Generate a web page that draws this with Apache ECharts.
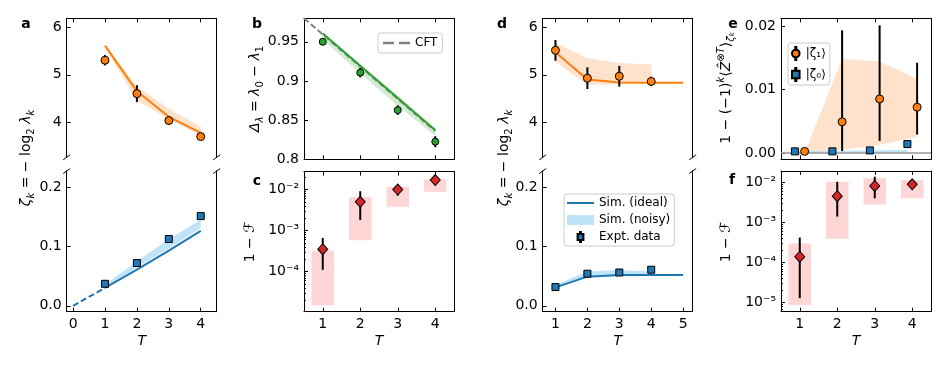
<!DOCTYPE html>
<html><head><meta charset="utf-8">
<script src="https://cdn.jsdelivr.net/npm/echarts@6/dist/echarts.min.js"></script>
<style>html,body{margin:0;padding:0;background:#fff}#c{width:947px;height:368px}</style>
</head><body><div id="c"></div>
<script>
// ---------------- DATA ----------------
const T4 = [1, 2, 3, 4];
const T5 = [1, 2, 3, 4, 5];
// panel a (top): zeta_1
const aTopExp = [5.31, 4.60, 4.03, 3.69];
const aTopExpErr = [0.11, 0.18, 0.09, 0.07];
const aTopSim = [5.62, 4.65, 4.11, 3.77];
const aTopBandLo = [5.58, 4.45, 4.05, 3.72];
const aTopBandHi = [5.64, 4.75, 4.28, 3.90];
// panel a (bottom): zeta_0
const aBotDashT = [0, 1];
const aBotDash = [0, 0.030];
const aBotSim = [0.030, 0.061, 0.093, 0.126];
const aBotBandLo = [0.031, 0.064, 0.097, 0.131];
const aBotBandHi = [0.036, 0.075, 0.112, 0.145];
const aBotExp = [0.037, 0.072, 0.1125, 0.151];
const aBotExpErr = [0.003, 0.003, 0.004, 0.005];
// panel b
const bExp = [0.950, 0.9106, 0.8628, 0.8225];
const bExpErr = [0.004, 0.006, 0.006, 0.007];
const bSim = [0.9607, 0.9195, 0.8783, 0.837];
const bBandLo = [0.953, 0.910, 0.868, 0.830];
const bBandHi = [0.961, 0.921, 0.881, 0.840];
const cftT = [0.5, 4];
const cftVal = [0.980, 0.836];
// panel c
const cExp = [3.5e-4, 5.0e-3, 1.0e-2, 1.7e-2];
const cErrLo = [1.1e-4, 1.8e-3, 7.1e-3, 1.45e-2];
const cErrHi = [6.6e-4, 9.1e-3, 1.3e-2, 1.95e-2];
const cRectLo = [1.5e-5, 5.8e-4, 3.8e-3, 8.8e-3];
const cRectHi = [3.2e-4, 6.6e-3, 1.17e-2, 1.77e-2];
// panel d (top)
const dTopSim = [5.48, 4.90, 4.84, 4.83, 4.83];
const dTopBandLo = [5.28, 4.79, 4.80, 4.82];
const dTopBandHi = [5.68, 5.35, 5.25, 5.22];
const dTopExp = [5.52, 4.93, 4.97, 4.86];
const dTopExpErr = [0.22, 0.23, 0.22, 0.10];
// panel d (bottom)
const dBotSim = [0.031, 0.049, 0.052, 0.052, 0.052];
const dBotBandLo = [0.029, 0.048, 0.050, 0.050];
const dBotBandHi = [0.035, 0.058, 0.060, 0.058];
const dBotExp = [0.0315, 0.054, 0.056, 0.0607];
const dBotExpErr = [0.002, 0.003, 0.003, 0.003];
// panel e
const eT1 = [1.13, 2.13, 3.13, 4.13];
const eT0 = [0.87, 1.87, 2.87, 3.87];
const e1Exp = [0.00025, 0.0049, 0.0085, 0.0072];
const e1ErrLo = [0.0001, 0.0003, 0.0019, 0.0029];
const e1ErrHi = [0.0004, 0.0193, 0.0201, 0.0142];
const e1BandLo = [0, 0.0005, 0.0013, 0.0025];
const e1BandHi = [0, 0.0148, 0.0144, 0.0117];
const e0Exp = [0.00025, 0.00025, 0.0004, 0.0014];
const e0Err = [0.0001, 0.0001, 0.0001, 0.0002];
const e0BandLo = [0, 0, 0, 0];
const e0BandHi = [0.0003, 0.0003, 0.0004, 0.0005];
// panel f
const fExp = [1.4e-4, 4.5e-3, 8.1e-3, 8.9e-3];
const fErrLo = [1.3e-5, 1.4e-3, 4.0e-3, 7.3e-3];
const fErrHi = [4.2e-4, 1.03e-2, 1.38e-2, 1.05e-2];
const fRectLo = [8.8e-6, 3.9e-4, 2.8e-3, 4.0e-3];
const fRectHi = [3.0e-4, 1.03e-2, 1.27e-2, 1.14e-2];
// ticks
const ticksX04 = [0, 1, 2, 3, 4];
const ticksX14 = [1, 2, 3, 4];
const ticksX15 = [1, 2, 3, 4, 5];
const ticksYTop = [4, 5, 6];
const ticksYBot = [0, 0.1, 0.2];
const ticksYb = [0.8, 0.85, 0.9, 0.95];
const ticksYc = [1e-4, 1e-3, 1e-2];
const ticksYe = [0, 0.01, 0.02];
const ticksYf = [1e-5, 1e-4, 1e-3, 1e-2];

// ---------------- STYLE ----------------
const FONT = '"DejaVu Sans", sans-serif';
const FS = 14;
const ORANGE = '#ff7f0e', BLUE = '#1f77b4', GREEN = '#2ca02c', RED = '#d62728', GRAY = '#808080';
const ORANGE_BAND = '#fee2cc', BLUE_BAND = '#bfe3f7', GREEN_BAND = '#d2ebd2', PINK = '#ffd6d6';

const chart = echarts.init(document.getElementById('c'), null, {renderer: 'canvas'});
const grids = [], xAxis = [], yAxis = [], series = [];

const SUP = {'-': '⁻', '0': '⁰', '1': '¹', '2': '²', '3': '³', '4': '⁴', '5': '⁵', '6': '⁶', '7': '⁷', '8': '⁸', '9': '⁹'};
function fmtLog(v) {
  const l = Math.log10(v), e = Math.round(l);
  if (Math.abs(l - e) > 1e-6) return '';
  return '10' + String(e).split('').map(c => SUP[c]).join('');
}
function minorTicks(lo, hi) {
  const out = [];
  for (let k = -7; k <= 0; k++) for (let m = 2; m <= 9; m++) {
    const v = m * Math.pow(10, k);
    if (v > lo && v < hi) out.push(v);
  }
  return out;
}
function panel(o) {
  const gi = grids.length;
  grids.push({left: o.left, top: o.top, width: o.width, height: o.height});
  const ls = {color: '#000', width: 1};
  const tick = (vals, show, len) => ({show, inside: true, length: len || 4, customValues: vals, lineStyle: {color: '#000', width: 1}});
  const xb = xAxis.length;
  const bot = o.bottomSpine !== false, top = o.topSpine !== false;
  xAxis.push({gridIndex: gi, type: 'value', position: 'bottom', min: o.xmin, max: o.xmax,
    axisLine: {show: bot, onZero: false, lineStyle: ls}, axisTick: tick(o.xticks, bot),
    axisLabel: {show: !!o.xlabels, customValues: o.xticks, margin: 6, color: '#000', fontFamily: FONT, fontSize: FS, formatter: v => String(v)},
    splitLine: {show: false},
    name: o.xlabels ? 'T' : '', nameLocation: 'middle', nameGap: 23,
    nameTextStyle: {fontFamily: FONT, fontSize: FS, fontStyle: 'italic', color: '#000'}});
  xAxis.push({gridIndex: gi, type: 'value', position: 'top', min: o.xmin, max: o.xmax,
    axisLine: {show: top, onZero: false, lineStyle: ls}, axisTick: tick(o.xticks, top),
    axisLabel: {show: false}, splitLine: {show: false}});
  const yl = yAxis.length;
  yAxis.push({gridIndex: gi, type: o.log ? 'log' : 'value', logBase: 10, position: 'left', min: o.ymin, max: o.ymax,
    axisLine: {show: true, onZero: false, lineStyle: ls}, axisTick: tick(o.yticks, true),
    axisLabel: {customValues: o.yticks, margin: 5, color: '#000', fontFamily: FONT, fontSize: FS, formatter: o.yfmt},
    splitLine: {show: false}});
  yAxis.push({gridIndex: gi, type: 'value', position: 'right', min: 0, max: 1,
    axisLine: {show: true, onZero: false, lineStyle: ls}, axisTick: {show: false}, axisLabel: {show: false}, splitLine: {show: false}});
  if (o.log) {
    yAxis.push({gridIndex: gi, type: 'log', logBase: 10, position: 'left', min: o.ymin, max: o.ymax,
      axisLine: {show: false}, axisTick: tick(minorTicks(o.ymin, o.ymax), true, 2),
      axisLabel: {show: false}, splitLine: {show: false}});
  }
  return {x: xb, y: yl, g: gi, o};
}
let sid = 0;
function band(P, xs, lo, hi, color, name) {
  return {type: 'custom', name: name || ('band' + (sid++)), xAxisIndex: P.x, yAxisIndex: P.y, z: 1, silent: true,
    itemStyle: {color}, data: xs.map((x, i) => [x, lo[i], hi[i]]), encode: {x: 0, y: [1, 2]},
    renderItem(p, api) {
      if (p.dataIndex !== 0) return null;
      const pts = [];
      for (let i = 0; i < xs.length; i++) pts.push(api.coord([xs[i], hi[i]]));
      for (let i = xs.length - 1; i >= 0; i--) pts.push(api.coord([xs[i], lo[i]]));
      return {type: 'polygon', shape: {points: pts}, style: {fill: color}};
    }};
}
function rects(P, xs, lo, hi, color) {
  return {type: 'custom', name: 'rect' + (sid++), xAxisIndex: P.x, yAxisIndex: P.y, z: 1, silent: true,
    data: xs.map((x, i) => [x, lo[i], hi[i]]), encode: {x: 0, y: [1, 2]},
    renderItem(p, api) {
      const x = api.value(0);
      const a = api.coord([x - 0.3, api.value(2)]);
      const b = api.coord([x + 0.3, api.value(1)]);
      return {type: 'rect', shape: {x: a[0], y: a[1], width: b[0] - a[0], height: b[1] - a[1]}, style: {fill: color}};
    }};
}
function errs(P, xs, lo, hi) {
  return {type: 'custom', name: 'err' + (sid++), xAxisIndex: P.x, yAxisIndex: P.y, z: 3, silent: true,
    data: xs.map((x, i) => [x, lo[i], hi[i]]), encode: {x: 0, y: [1, 2]},
    renderItem(p, api) {
      const a = api.coord([api.value(0), api.value(1)]);
      const b = api.coord([api.value(0), api.value(2)]);
      return {type: 'line', shape: {x1: a[0], y1: a[1], x2: b[0], y2: b[1]}, style: {stroke: '#000', lineWidth: 2}};
    }};
}
function symErrs(P, xs, v, e) {
  return errs(P, xs, v.map((y, i) => y - e[i]), v.map((y, i) => y + e[i]));
}
function line(P, xs, ys, color, name, dashed) {
  return {type: 'line', name: name || ('line' + (sid++)), xAxisIndex: P.x, yAxisIndex: P.y, z: 2, silent: true,
    symbol: 'none', data: xs.map((x, i) => [x, ys[i]]), itemStyle: {color},
    lineStyle: {color, width: 2, type: dashed ? [6, 3] : 'solid'}};
}
function pts(P, xs, ys, symbol, size, color, name) {
  return {type: 'scatter', name: name || ('pts' + (sid++)), xAxisIndex: P.x, yAxisIndex: P.y, z: 4, silent: true,
    symbol, symbolSize: size, data: xs.map((x, i) => [x, ys[i]]),
    itemStyle: {color, borderColor: '#000', borderWidth: 1, opacity: 1}};
}

// ---------------- PANELS ----------------
const W = 150;
const A1 = panel({left: 66.7, top: 18.3, width: W, height: 139, xmin: -0.2, xmax: 4.5, ymin: 3.25, ymax: 6.2,
  xticks: ticksX04, yticks: ticksYTop, bottomSpine: false, yfmt: v => String(v)});
const A2 = panel({left: 66.7, top: 171, width: W, height: 140.7, xmin: -0.2, xmax: 4.5, ymin: -0.01, ymax: 0.227,
  xticks: ticksX04, yticks: ticksYBot, topSpine: false, xlabels: true, yfmt: v => v.toFixed(1)});
const B = panel({left: 304, top: 18.3, width: W, height: 141, xmin: 0.5, xmax: 4.5, ymin: 0.8, ymax: 0.98,
  xticks: ticksX14, yticks: ticksYb, yfmt: v => String(v)});
const C = panel({left: 304, top: 171.5, width: W, height: 140.2, xmin: 0.5, xmax: 4.5, ymin: 1.05e-5, ymax: 2.75e-2, log: true,
  xticks: ticksX14, yticks: ticksYc, xlabels: true, yfmt: fmtLog});
const D1 = panel({left: 542.7, top: 18.3, width: W, height: 139, xmin: 0.6, xmax: 5.3, ymin: 3.25, ymax: 6.2,
  xticks: ticksX15, yticks: ticksYTop, bottomSpine: false, yfmt: v => String(v)});
const D2 = panel({left: 542.7, top: 171, width: W, height: 140.7, xmin: 0.6, xmax: 5.3, ymin: -0.01, ymax: 0.227,
  xticks: ticksX15, yticks: ticksYBot, topSpine: false, xlabels: true, yfmt: v => v.toFixed(1)});
const E = panel({left: 781, top: 18.3, width: W, height: 141, xmin: 0.5, xmax: 4.5, ymin: -0.001, ymax: 0.0212,
  xticks: ticksX14, yticks: ticksYe, yfmt: v => v.toFixed(2)});
const F = panel({left: 781, top: 171, width: W, height: 140.7, xmin: 0.5, xmax: 4.5, ymin: 5.97e-6, ymax: 1.914e-2, log: true,
  xticks: ticksX14, yticks: ticksYf, xlabels: true, yfmt: fmtLog});

// ---------------- SERIES ----------------
// a top
series.push(band(A1, T4, aTopBandLo, aTopBandHi, ORANGE_BAND));
series.push(line(A1, T4, aTopSim, ORANGE));
series.push(symErrs(A1, T4, aTopExp, aTopExpErr));
series.push(pts(A1, T4, aTopExp, 'circle', 8, ORANGE));
// a bottom
series.push(band(A2, T4, aBotBandLo, aBotBandHi, BLUE_BAND));
series.push(line(A2, aBotDashT, aBotDash, BLUE, null, true));
series.push(line(A2, T4, aBotSim, BLUE));
series.push(symErrs(A2, T4, aBotExp, aBotExpErr));
series.push(pts(A2, T4, aBotExp, 'rect', 7, BLUE));
// b
series.push(band(B, T4, bBandLo, bBandHi, GREEN_BAND));
series.push(Object.assign(line(B, cftT, cftVal, GRAY, 'CFT', true), {z: 2}));
series.push(line(B, T4, bSim, GREEN));
series.push(symErrs(B, T4, bExp, bExpErr));
series.push(pts(B, T4, bExp, 'circle', 7, GREEN));
// c
series.push(rects(C, T4, cRectLo, cRectHi, PINK));
series.push(errs(C, T4, cErrLo, cErrHi));
series.push(pts(C, T4, cExp, 'diamond', [10, 11], RED));
// d top
series.push(band(D1, T4, dTopBandLo, dTopBandHi, ORANGE_BAND));
series.push(line(D1, T5, dTopSim, ORANGE));
series.push(symErrs(D1, T4, dTopExp, dTopExpErr));
series.push(pts(D1, T4, dTopExp, 'circle', 8, ORANGE));
// d bottom
series.push(band(D2, T4, dBotBandLo, dBotBandHi, BLUE_BAND, 'Sim. (noisy)'));
series.push(line(D2, T5, dBotSim, BLUE, 'Sim. (ideal)'));
series.push(symErrs(D2, T4, dBotExp, dBotExpErr));
series.push(pts(D2, T4, dBotExp, 'rect', 7, BLUE, 'Expt. data'));
// e
series.push(band(E, eT1, e1BandLo, e1BandHi, ORANGE_BAND));
series.push(band(E, eT0, e0BandLo, e0BandHi, BLUE_BAND));
series.push(errs(E, eT1, e1ErrLo, e1ErrHi));
series.push(symErrs(E, eT0, e0Exp, e0Err));
const e1Pts = pts(E, eT1, e1Exp, 'circle', 8, ORANGE, '|ζ₁⟩');
const e0Pts = pts(E, eT0, e0Exp, 'rect', 7, BLUE, '|ζ₀⟩');
e0Pts.markLine = {silent: true, symbol: ['none', 'none'], label: {show: false}, z: 2,
  lineStyle: {color: '#999', type: 'solid', width: 1.5}, data: [{yAxis: 0}]};
series.push(e0Pts);
series.push(e1Pts);
// f
series.push(rects(F, T4, fRectLo, fRectHi, PINK));
series.push(errs(F, T4, fErrLo, fErrHi));
series.push(pts(F, T4, fExp, 'diamond', [10, 11], RED));

// ---------------- TEXT ----------------
const rich = {
  n: {fontFamily: FONT, fontSize: FS, lineHeight: 20},
  i: {fontFamily: FONT, fontSize: FS, fontStyle: 'italic', lineHeight: 20},
  sn: {fontFamily: FONT, fontSize: 10, lineHeight: 11, verticalAlign: 'bottom'},
  si: {fontFamily: FONT, fontSize: 10, fontStyle: 'italic', lineHeight: 11, verticalAlign: 'bottom'},
  pn: {fontFamily: FONT, fontSize: 10, lineHeight: 11, verticalAlign: 'top'},
  pi: {fontFamily: FONT, fontSize: 10, fontStyle: 'italic', lineHeight: 11, verticalAlign: 'top'},
  ssi: {fontFamily: FONT, fontSize: 7, fontStyle: 'italic', lineHeight: 6, verticalAlign: 'bottom'}
};
function ytitle(x, y, text) {
  return {type: 'text', x, y, rotation: Math.PI / 2, silent: true,
    style: {text, rich, align: 'center', verticalAlign: 'middle', fill: '#000', fontFamily: FONT, fontSize: FS}};
}
function letter(x, y, t) {
  return {type: 'text', x, y, silent: true,
    style: {text: t, fill: '#000', fontFamily: FONT, fontSize: 14, fontWeight: 'bold', align: 'center', verticalAlign: 'middle'}};
}
const zetaTitle = '{i|ζ}{si|k}{n| = − log}{sn|2}{n| }{i|λ}{si|k}';
const graphicTexts = [
  letter(26, 24, 'a'), letter(257, 24, 'b'), letter(257, 181, 'c'),
  letter(502, 24, 'd'), letter(733, 24, 'e'), letter(732, 180, 'f'),
  ytitle(26, 158, zetaTitle),
  ytitle(504, 158, zetaTitle),
  ytitle(255, 89, '{i|Δ}{si|λ}{n| = }{i|λ}{sn|0}{n| − }{i|λ}{sn|1}'),
  ytitle(250, 242, '{n|1 − }{i|ℱ}'),
  ytitle(726, 88, '{n|1 − (−1)}{pi|k}{n|⟨}{i|Ẑ}{pn|⊗}{pi|T}{n|⟩}{si|ζ}{ssi|k}'),
  ytitle(726, 242, '{n|1 − }{i|ℱ}')
];

const legendBase = {selectedMode: false, orient: 'vertical', backgroundColor: 'rgba(255,255,255,0.9)',
  borderColor: '#cccccc', borderWidth: 1, borderRadius: 3,
  textStyle: {fontFamily: FONT, fontSize: 12, color: '#000'}};
const ICON_LINE = 'path://M0,0h27v2h-27z';
const ICON_DASH = 'path://M0,0h9v2h-9z M13,0h9v2h-9z';
const ICON_SQ_ERR = 'path://M4.5,0h1v2.5h-1z M1.5,2.5h7v7h-7z M4.5,9.5h1v2.5h-1z';
const ICON_CI_ERR = 'path://M4.5,0h1v2.5h-1z M8.5,6A3.5,3.5 0 1 1 1.5,6A3.5,3.5 0 1 1 8.5,6z M4.5,9.5h1v2.5h-1z';
const legends = [
  Object.assign({}, legendBase, {left: 378, top: 33, padding: [4, 5, 4, 5], itemWidth: 27, itemHeight: 8,
    data: [{name: 'CFT', icon: ICON_DASH}]}),
  Object.assign({}, legendBase, {left: 564, top: 194, padding: [3, 4, 3, 3], itemWidth: 27, itemHeight: 10, itemGap: 5,
    data: [{name: 'Sim. (ideal)', icon: ICON_LINE}, {name: 'Sim. (noisy)', icon: 'rect'}, {name: 'Expt. data', icon: ICON_SQ_ERR}]}),
  Object.assign({}, legendBase, {left: 788, top: 43, padding: [3, 4, 3, 3], itemWidth: 10, itemHeight: 13, itemGap: 6,
    data: [{name: '|ζ₁⟩', icon: ICON_CI_ERR}, {name: '|ζ₀⟩', icon: ICON_SQ_ERR}]})
];

chart.setOption({
  animation: false,
  backgroundColor: '#fff',
  grid: grids, xAxis, yAxis, series, legend: legends,
  graphic: graphicTexts
});

// break marks on the split axes, positioned from the grids' own corners
const breaks = [];
function brk(P, yv) {
  [P.o.xmin, P.o.xmax].forEach(xv => {
    const p = chart.convertToPixel({gridIndex: P.g}, [xv, yv]);
    breaks.push({type: 'line', silent: true, shape: {x1: p[0] - 3.5, y1: p[1] + 2.5, x2: p[0] + 3.5, y2: p[1] - 2.5},
      style: {stroke: '#000', lineWidth: 1}});
  });
}
brk(A1, A1.o.ymin); brk(A2, A2.o.ymax); brk(D1, D1.o.ymin); brk(D2, D2.o.ymax);
chart.setOption({graphic: graphicTexts.concat(breaks)});
</script></body></html>
